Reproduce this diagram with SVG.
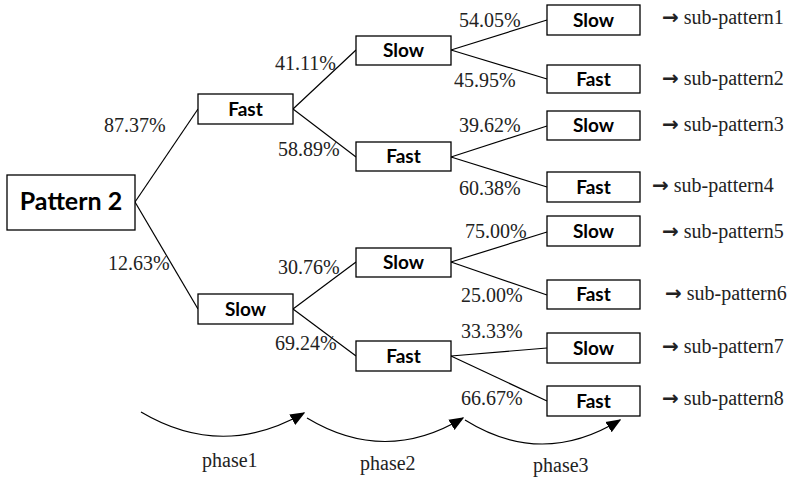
<svg xmlns="http://www.w3.org/2000/svg" width="787" height="478" viewBox="0 0 787 478">
<style>
.box{fill:#fff;stroke:#000;stroke-width:1.3}
.nt{font-weight:bold;font-size:19px;text-anchor:middle}
.pc{font-size:20px;fill:#222}
.ar{font-weight:bold}
.ln{stroke:#000;stroke-width:1.2;fill:none}
.ph{stroke:#000;stroke-width:1.2;fill:none;marker-end:url(#ah)}
</style>
<defs>
<marker id="ah" viewBox="0 0 10 10" refX="9" refY="5" markerWidth="15" markerHeight="15" markerUnits="userSpaceOnUse" orient="auto">
<path d="M0,1 L10,5 L0,9 Z" fill="#000"/>
</marker>
</defs>
<g id="connectors">
<line class="ln" x1="135" y1="202" x2="198" y2="109"/>
<line class="ln" x1="135" y1="202" x2="198" y2="309"/>
<line class="ln" x1="293" y1="109" x2="356" y2="50"/>
<line class="ln" x1="293" y1="109" x2="356" y2="157"/>
<line class="ln" x1="293" y1="309" x2="356" y2="262"/>
<line class="ln" x1="293" y1="309" x2="356" y2="356"/>
<line class="ln" x1="451" y1="50" x2="547" y2="20"/>
<line class="ln" x1="451" y1="50" x2="547" y2="79"/>
<line class="ln" x1="451" y1="157" x2="547" y2="126"/>
<line class="ln" x1="451" y1="157" x2="547" y2="187"/>
<line class="ln" x1="451" y1="262" x2="547" y2="232"/>
<line class="ln" x1="451" y1="262" x2="547" y2="295"/>
<line class="ln" x1="451" y1="356" x2="547" y2="348"/>
<line class="ln" x1="451" y1="356" x2="547" y2="401"/>
<path class="ph" d="M141,412 Q222,460 304,413"/>
<path class="ph" d="M307,418 Q385,465 463,418"/>
<path class="ph" d="M465,420 Q542,468 620,420"/>
</g>
<g font-family="Lato, 'Liberation Sans', sans-serif">
<g id="root"><rect class="box" x="7" y="175" width="128" height="55"/><text class="nt" x="71" y="210" style="font-size:25px">Pattern 2</text></g>
<g id="n1"><rect class="box" x="198" y="94" width="95" height="30"/><text class="nt" x="245.5" y="116">Fast</text></g>
<g id="n2"><rect class="box" x="198" y="294" width="95" height="30"/><text class="nt" x="245.5" y="316">Slow</text></g>
<g id="n11"><rect class="box" x="356" y="36" width="95" height="29"/><text class="nt" x="403.5" y="57">Slow</text></g>
<g id="n12"><rect class="box" x="356" y="142" width="95" height="29"/><text class="nt" x="403.5" y="163">Fast</text></g>
<g id="n21"><rect class="box" x="356" y="248" width="95" height="29"/><text class="nt" x="403.5" y="269">Slow</text></g>
<g id="n22"><rect class="box" x="356" y="341" width="95" height="30"/><text class="nt" x="403.5" y="363">Fast</text></g>
<g id="l1"><rect class="box" x="547" y="5" width="93" height="30"/><text class="nt" x="593.5" y="27">Slow</text></g>
<g id="l2"><rect class="box" x="547" y="65" width="93" height="28"/><text class="nt" x="593.5" y="86">Fast</text></g>
<g id="l3"><rect class="box" x="547" y="111" width="93" height="29"/><text class="nt" x="593.5" y="132">Slow</text></g>
<g id="l4"><rect class="box" x="547" y="172" width="93" height="30"/><text class="nt" x="593.5" y="194">Fast</text></g>
<g id="l5"><rect class="box" x="547" y="216" width="93" height="30"/><text class="nt" x="593.5" y="238">Slow</text></g>
<g id="l6"><rect class="box" x="547" y="280" width="93" height="29"/><text class="nt" x="593.5" y="301">Fast</text></g>
<g id="l7"><rect class="box" x="547" y="333" width="93" height="30"/><text class="nt" x="593.5" y="355">Slow</text></g>
<g id="l8"><rect class="box" x="547" y="386" width="93" height="30"/><text class="nt" x="593.5" y="408">Fast</text></g>
</g>
<g id="labels" font-family="Liberation Serif, serif">
<text class="pc" x="104" y="132">87.37%</text>
<text class="pc" x="108" y="270">12.63%</text>
<text class="pc" x="275" y="70">41.11%</text>
<text class="pc" x="278" y="156">58.89%</text>
<text class="pc" x="278" y="274">30.76%</text>
<text class="pc" x="275" y="350">69.24%</text>
<text class="pc" x="459" y="27">54.05%</text>
<text class="pc" x="454" y="87">45.95%</text>
<text class="pc" x="459" y="132">39.62%</text>
<text class="pc" x="459" y="195">60.38%</text>
<text class="pc" x="465" y="238">75.00%</text>
<text class="pc" x="461" y="302">25.00%</text>
<text class="pc" x="461" y="338">33.33%</text>
<text class="pc" x="461" y="405">66.67%</text>
<text class="pc" x="662" y="24"><tspan class="ar" font-family="DejaVu Sans" font-size="20">→</tspan> sub-pattern1</text>
<text class="pc" x="662" y="85"><tspan class="ar" font-family="DejaVu Sans" font-size="20">→</tspan> sub-pattern2</text>
<text class="pc" x="662" y="131"><tspan class="ar" font-family="DejaVu Sans" font-size="20">→</tspan> sub-pattern3</text>
<text class="pc" x="652" y="192"><tspan class="ar" font-family="DejaVu Sans" font-size="20">→</tspan> sub-pattern4</text>
<text class="pc" x="662" y="238"><tspan class="ar" font-family="DejaVu Sans" font-size="20">→</tspan> sub-pattern5</text>
<text class="pc" x="665" y="300"><tspan class="ar" font-family="DejaVu Sans" font-size="20">→</tspan> sub-pattern6</text>
<text class="pc" x="662" y="353"><tspan class="ar" font-family="DejaVu Sans" font-size="20">→</tspan> sub-pattern7</text>
<text class="pc" x="662" y="405"><tspan class="ar" font-family="DejaVu Sans" font-size="20">→</tspan> sub-pattern8</text>
<text class="pc" x="202" y="467">phase1</text>
<text class="pc" x="360" y="470">phase2</text>
<text class="pc" x="533" y="472">phase3</text>
</g>
</svg>
